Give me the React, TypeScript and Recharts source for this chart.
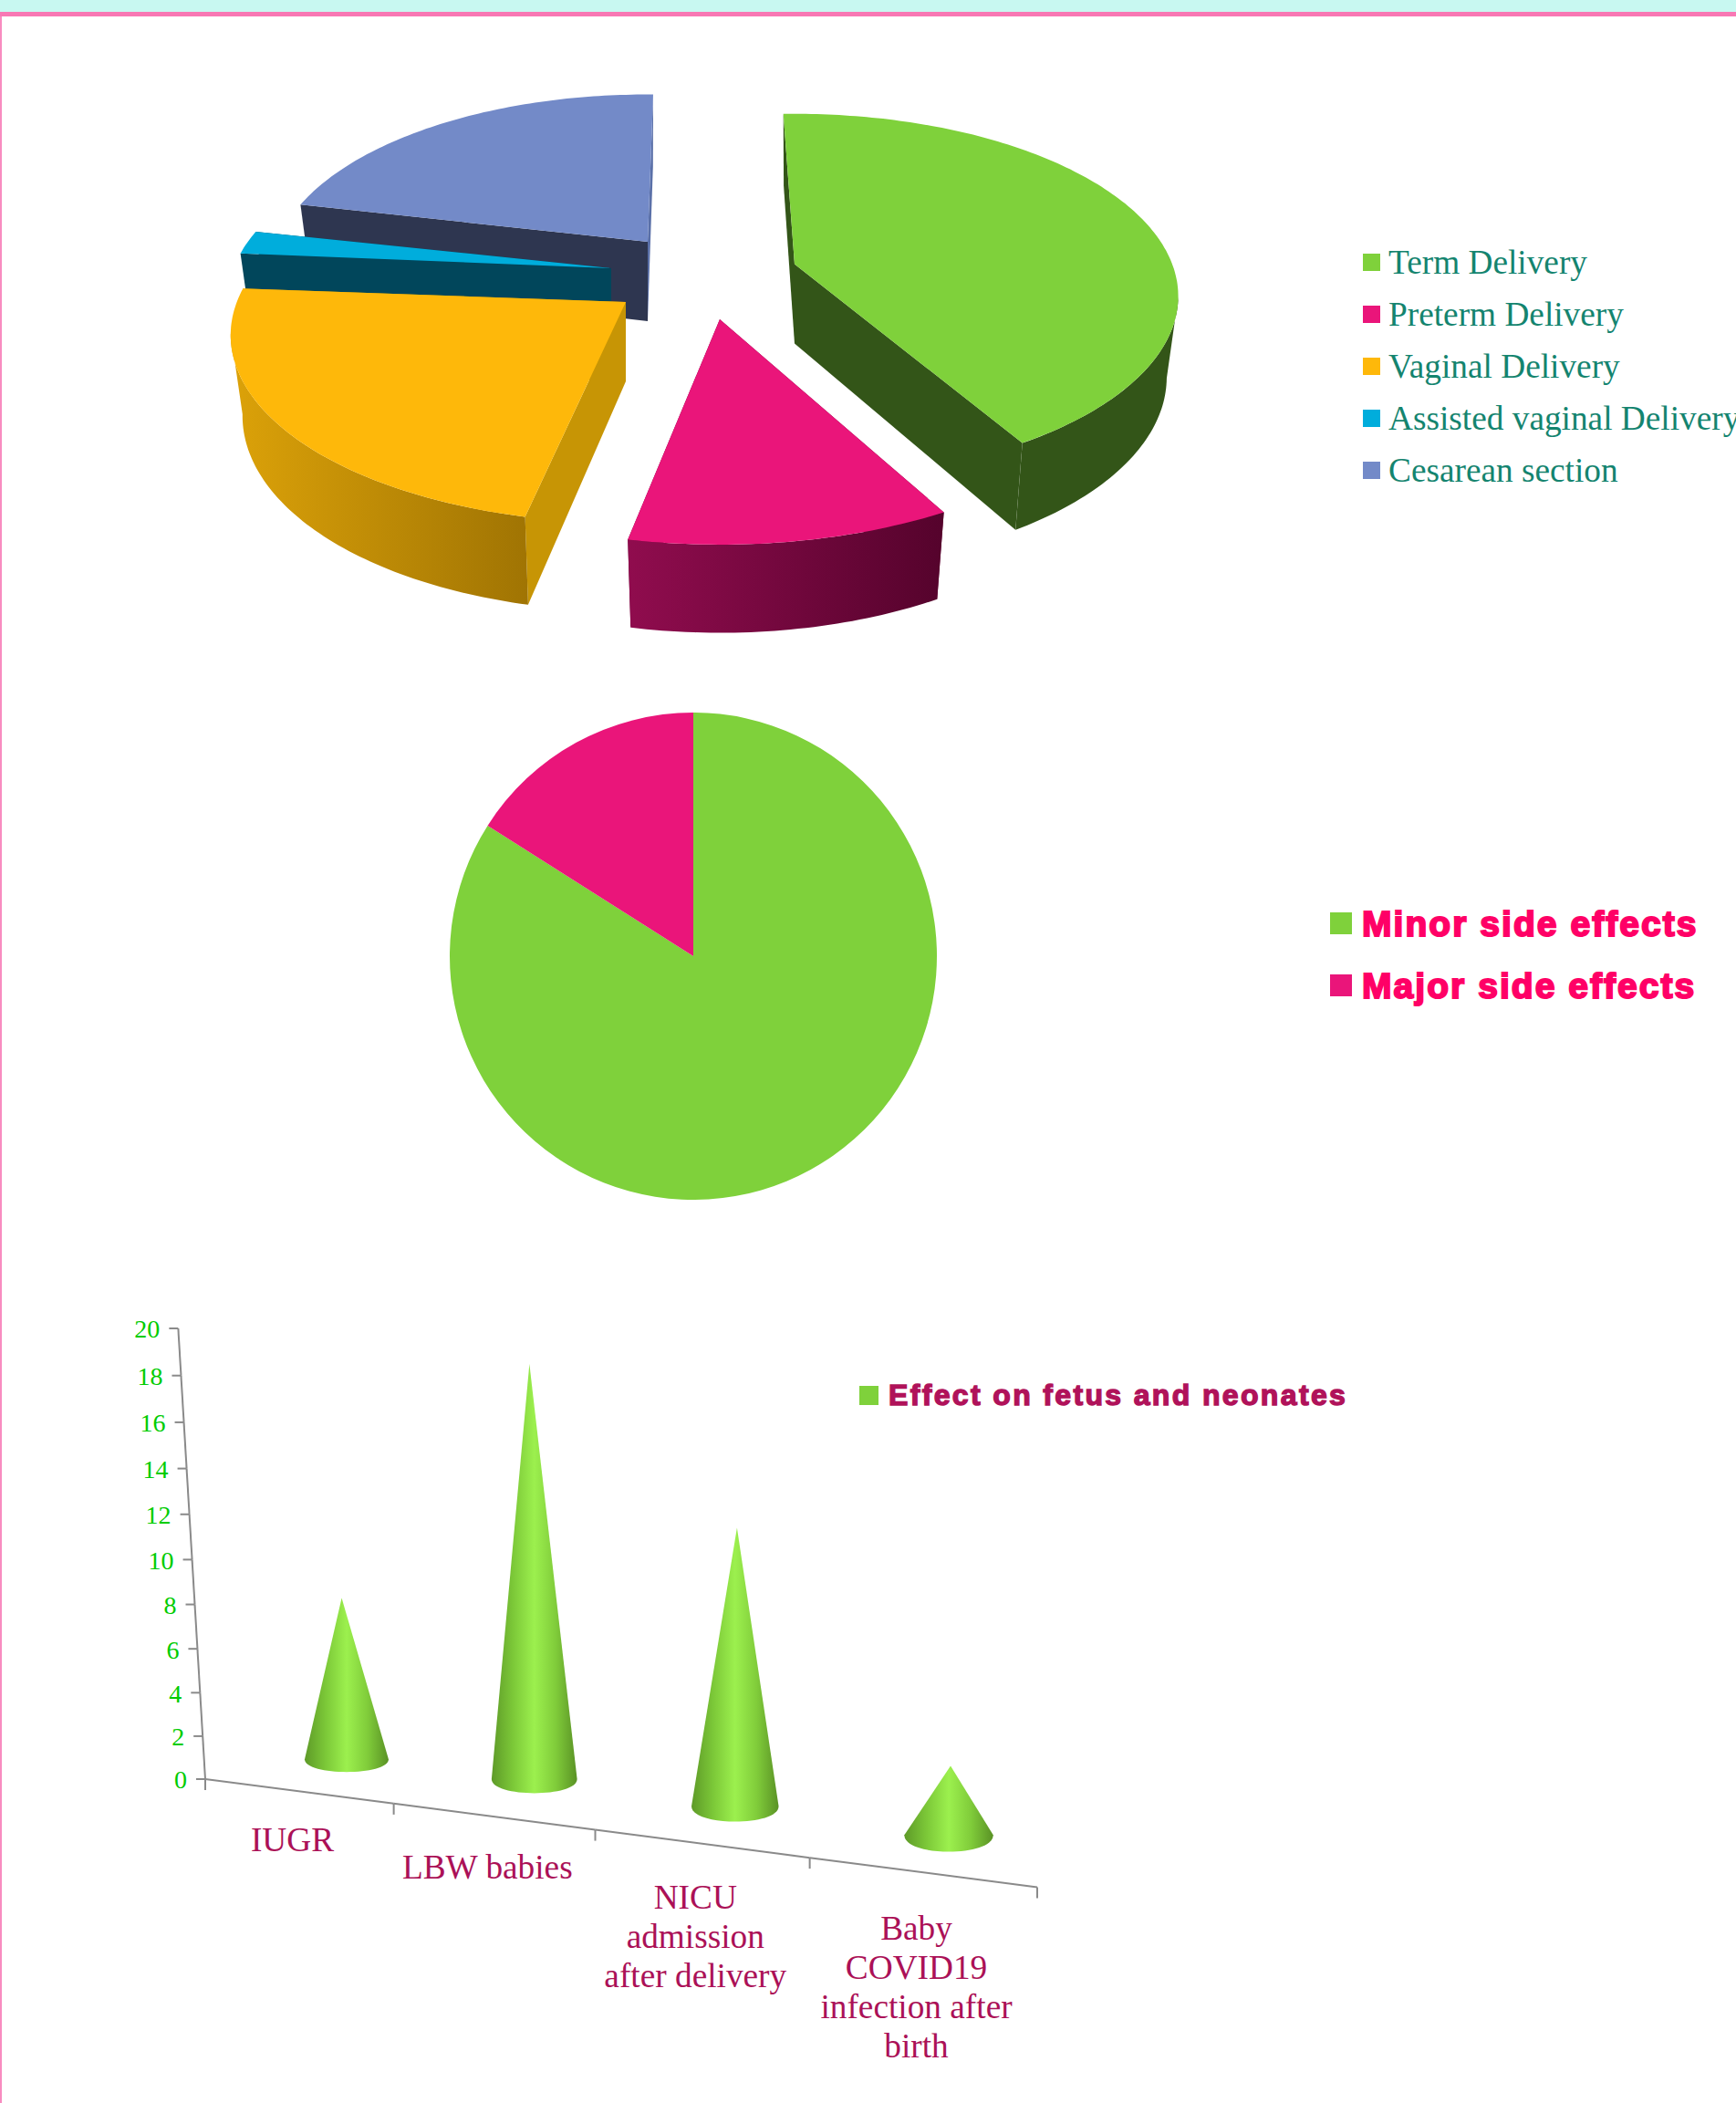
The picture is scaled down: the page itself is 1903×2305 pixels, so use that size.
import React from 'react';
import { PieChart, Pie, Cell, BarChart, Bar, XAxis, YAxis, Legend } from 'recharts';

// ---------- data ----------
const deliveryNames = ['Term Delivery', 'Preterm Delivery', 'Vaginal Delivery', 'Assisted vaginal Delivery', 'Cesarean section'];
const deliveryValues = [42, 11.7, 22.1, 2.5, 21.7];
const deliveryColors = ['#7FD13B', '#EA157A', '#FEB80A', '#00ADDC', '#738AC8'];

const effectNames = ['Minor side effects', 'Major side effects'];
const effectValues = [84, 16];
const effectColors = ['#7FD13B', '#EA157A'];

const fetusCategories = ['IUGR', 'LBW babies', 'NICU admission after delivery', 'Baby COVID19 infection after birth'];
const fetusTickLines = [['IUGR'], ['LBW babies'], ['NICU', 'admission', 'after delivery'], ['Baby', 'COVID19', 'infection after', 'birth']];
const fetusValues = [7.4, 18.5, 12.6, 3.2];
const fetusSeriesName = 'Effect on fetus and neonates';
const fetusTicks = [0, 2, 4, 6, 8, 10, 12, 14, 16, 18, 20];

// ---------- derived tables ----------
// drawn back to front, so the slices go counter-clockwise starting with the last one
const deliveryTable = deliveryNames.map((name, i) => ({ name, value: deliveryValues[i] })).reverse();
const effectTable = effectNames.map((name, i) => ({ name, value: effectValues[i] }));
const fetusTable = fetusCategories.map((name, i) => ({ name, value: fetusValues[i] }));

// ---------- 3D pie presentation ----------
const SERIF = '"Liberation Serif", serif';
const SANS = '"Liberation Sans", sans-serif';
const SQUASH = 0.468;
const PERSP = 0.176;
const DEPTH = 87;
const NO_MARGIN = { top: 0, right: 0, bottom: 0, left: 0 };

const sliceLook: Record<string, any> = {
  'Term Delivery': { dx: 111, dy: -20.5, scale: 1, turn: 1, spread: 1, wall: ['#335518', '#335518'], side: '#335518', sideEnd: '#335518' },
  'Preterm Delivery': { dx: 29, dy: 40, scale: 1.05, turn: 0, spread: 0.94, wall: ['#900C4E', '#55032C'], side: '#6a0636', sideEnd: '#6a0636' },
  'Vaginal Delivery': { dx: -74, dy: 21, scale: 1.03, turn: -1.25, spread: 1.03, wall: ['#DCA209', '#A07403'], side: '#C79505', sideEnd: '#C79505' },
  'Assisted vaginal Delivery': { dx: -90, dy: -16, scale: 1, turn: -2.25, spread: 0.83, wall: ['#01465B', '#01465B'], side: '#01465B', sideEnd: '#01465B' },
  'Cesarean section': { dx: -50, dy: -45, scale: 0.98, turn: -2, spread: 1, wall: ['#2E3650', '#2E3650'], side: '#2E3650', sideEnd: '#5A70A8' },
};

const PieSlice3D = (props: any) => {
  const { cx, cy, outerRadius, startAngle, endAngle, name, payload } = props;
  const key = name ?? payload?.name;
  const look = sliceLook[key];
  if (!look) return null;
  const apexX = cx + look.dx;
  const apexY = cy + look.dy;
  const top = (deg: number) => {
    const a = (deg * Math.PI) / 180;
    const u = Math.cos(a);
    const v = -Math.sin(a);
    const d = 1 - PERSP * v;
    return [apexX + (look.scale * outerRadius * u) / d, apexY + (look.scale * outerRadius * SQUASH * v) / d, v];
  };
  const bottom = (deg: number) => {
    const [x, y, v] = top(deg);
    return [apexX + (x - apexX) * 0.97, y + DEPTH / (1 - 0.1 * v), v];
  };
  const mid = (startAngle + endAngle) / 2;
  const half = (Math.abs(endAngle - startAngle) / 2) * look.spread;
  const a0 = mid - half + look.turn;
  const a1 = mid + half + look.turn;
  const steps = Math.max(2, Math.ceil(a1 - a0));
  const angles = Array.from({ length: steps + 1 }, (_, i) => a0 + ((a1 - a0) * i) / steps);
  const topArc = angles.map(top);
  const botArc = angles.map(bottom);
  const fmt = (pts: number[][]) => pts.map((p) => `${p[0].toFixed(1)},${p[1].toFixed(1)}`).join(' ');
  const apexBottom = [apexX, apexY + DEPTH];
  const wallAt = (deg: number) => fmt([[apexX, apexY], top(deg), bottom(deg), apexBottom]);
  // a0 is the clockwise end of the slice, a1 its clockwise start
  const faces = [
    { v: top(a0)[2], pts: wallAt(a0), fill: look.sideEnd },
    { v: top(a1)[2], pts: wallAt(a1), fill: look.side },
  ].sort((p, q) => p.v - q.v);
  // only the strips of the rim that face the viewer, all wound the same way
  const strips: string[] = [];
  for (let i = 0; i < steps; i++) {
    if (topArc[i][0] >= topArc[i + 1][0]) continue;
    const q = [topArc[i], topArc[i + 1], botArc[i + 1], botArc[i]];
    strips.push('M' + q.map((p) => `${p[0].toFixed(2)},${p[1].toFixed(2)}`).join('L') + 'Z');
  }
  const gid = 'wall' + deliveryNames.indexOf(key);
  const fill = deliveryColors[deliveryNames.indexOf(key)];
  return (
    <g>
      <defs>
        <linearGradient id={gid} x1="0" x2="1" y1="0" y2="0">
          <stop offset="0" stopColor={look.wall[0]} />
          <stop offset="1" stopColor={look.wall[1]} />
        </linearGradient>
      </defs>
      {faces.map((f, i) => (
        <polygon key={i} points={f.pts} fill={f.fill} />
      ))}
      {strips.length > 0 && <path d={strips.join('')} fill={`url(#${gid})`} />}
      <polygon points={fmt([[apexX, apexY], ...topArc])} fill={fill} />
    </g>
  );
};

// ---------- legends ----------
const makeLegend = (names: string[], colors: string[], o: any) => () => (
  <div style={{ position: 'relative', width: o.width, height: names.length * o.rowH, overflow: 'hidden' }}>
    {names.map((n, i) => (
      <div key={n} style={{ position: 'absolute', left: 0, top: i * o.rowH, height: o.rowH, display: 'flex', alignItems: 'center', whiteSpace: 'nowrap' }}>
        <span style={{ display: 'inline-block', width: o.box, height: o.box, background: colors[i], marginRight: o.gap, flex: 'none' }} />
        <span
          style={{
            fontFamily: o.font,
            fontSize: o.size,
            fontWeight: o.weight,
            color: o.color,
            letterSpacing: o.spacing,
            WebkitTextStroke: o.stroke,
            lineHeight: 1,
          }}
        >
          {n}
        </span>
      </div>
    ))}
  </div>
);

const Legend1 = makeLegend(deliveryNames, deliveryColors, {
  width: 409, rowH: 57, box: 19, gap: 9, font: SERIF, size: 37.3, weight: 400, color: '#14846F', spacing: 0, stroke: '0',
});
const Legend2 = makeLegend(effectNames, effectColors, {
  width: 445, rowH: 68, box: 24, gap: 11, font: SANS, size: 39, weight: 700, color: '#FF0066', spacing: 2.05, stroke: '2px #FF0066',
});
const Legend3 = makeLegend([fetusSeriesName], ['#7FD13B'], {
  width: 600, rowH: 50, box: 21, gap: 11, font: SANS, size: 32, weight: 700, color: '#B0125A', spacing: 2.35, stroke: '1.4px #B0125A',
});

// ---------- cone chart geometry ----------
const CH_W = 1903;
const CH_H = 905;
const X0 = 225;
const PW = 912;
const Y0 = 550;
const PH = 494;
const Y_WIDTH = 60;
const X_HEIGHT = 60;
const FLOOR_SLOPE = 0.13;
const WALL_TILT = 0.06;

const bendX = (t: number) => t - 0.125 * t * (1 - t);
const floorAt = (t: number) => [X0 + PW * bendX(t), Y0 + FLOOR_SLOPE * PW * bendX(t)];
const bendY = (s: number) => s - 0.052 * s * (1 - s);
const wallAt = (y: number) => {
  const s = bendY((Y0 - y) / PH);
  return [X0 - WALL_TILT * PH * s, Y0 - PH * s];
};

const AXIS_GREY = '#8a8a8a';

const YTick = (props: any) => {
  const { y, payload } = props;
  const [wx, wy] = wallAt(y);
  const step = PH / (fetusTicks.length - 1);
  const [nx, ny] = wallAt(y + step);
  return (
    <g>
      {payload.value > 0 && <line x1={wx} y1={wy} x2={nx} y2={ny} stroke={AXIS_GREY} strokeWidth={2} />}
      <line x1={wx - 10} y1={wy} x2={wx} y2={wy} stroke={AXIS_GREY} strokeWidth={2} />
      <text x={wx - 20} y={wy} dy="0.37em" textAnchor="end" fontFamily={SERIF} fontSize={28} fill="#00CC00">
        {payload.value}
      </text>
    </g>
  );
};

const XTick = (props: any) => {
  const { x, index } = props;
  const n = fetusCategories.length;
  const i = index ?? Math.round(((x - X0) / PW) * n - 0.5);
  const [ax, ay] = floorAt(i / n);
  const [bx, by] = floorAt((i + 1) / n);
  const [mx, my] = floorAt((i + 0.5) / n);
  const lines = fetusTickLines[i] ?? [];
  const drop = 52 + (11 * (i + 0.5)) / n;
  return (
    <g>
      <line x1={ax} y1={ay} x2={bx} y2={by} stroke={AXIS_GREY} strokeWidth={2} />
      <line x1={bx} y1={by} x2={bx} y2={by + 12} stroke={AXIS_GREY} strokeWidth={2} />
      {i === 0 && <line x1={ax} y1={ay} x2={ax} y2={ay + 12} stroke={AXIS_GREY} strokeWidth={2} />}
      {lines.map((l, k) => (
        <text key={k} x={mx - 6} y={my + drop + k * 43} dy="0.33em" textAnchor="middle" fontFamily={SERIF} fontSize={37.3} fill="#AB1157">
          {l}
        </text>
      ))}
    </g>
  );
};

const Cone = (props: any) => {
  const { x, width, height } = props;
  const t = (x + width / 2 - X0) / PW;
  const [fx, fy] = floorAt(t);
  const cx = fx + 57 - 32 * t;
  const by = fy - Math.min(41, 30 + 40 * t);
  const hw = (width / 2) * (1 + 0.08 * t);
  const ry = hw * (0.29 + 0.1 * t);
  const h = PH * bendY(height / PH);
  const tipX = cx + h * (-0.04 + 0.075 * t);
  const tipY = by - h;
  const bulge = ry * 1.333;
  const d = `M${cx - hw},${by} L${tipX},${tipY} L${cx + hw},${by} C${cx + hw},${by + bulge} ${cx - hw},${by + bulge} ${cx - hw},${by} Z`;
  return <path d={d} fill="url(#coneFill)" />;
};

export default function App() {
  return (
    <div style={{ position: 'absolute', left: 0, top: 0, width: 1903, height: 2305, overflow: 'hidden', background: '#fff' }}>
      <div style={{ position: 'absolute', left: 0, top: 0, width: 1903, height: 13, background: '#C8F8F1' }} />
      <div style={{ position: 'absolute', left: 0, top: 13, width: 1903, height: 5, background: '#F878B4' }} />
      <div style={{ position: 'absolute', left: 0, top: 18, width: 2, height: 2287, background: '#F88CC0' }} />

      <div style={{ position: 'absolute', left: 0, top: 0 }}>
        <PieChart width={1903} height={740} margin={NO_MARGIN}>
          <Pie
            data={deliveryTable}
            dataKey="value"
            nameKey="name"
            cx={760}
            cy={310}
            outerRadius={414}
            startAngle={91 - 360}
            endAngle={91}
            isAnimationActive={false}
            stroke="none"
            legendType="none"
            shape={PieSlice3D}
            inactiveShape={PieSlice3D}
          />
          <Legend layout="vertical" align="center" verticalAlign="middle" content={Legend1} wrapperStyle={{ left: 1494, top: 259, width: 409 }} />
        </PieChart>
      </div>

      <div style={{ position: 'absolute', left: 0, top: 700 }}>
        <PieChart width={1903} height={700} margin={NO_MARGIN}>
          <Pie
            data={effectTable}
            dataKey="value"
            nameKey="name"
            cx={760}
            cy={348}
            outerRadius={267}
            startAngle={90}
            endAngle={-270}
            isAnimationActive={false}
            stroke="none"
          >
            {effectTable.map((e, i) => (
              <Cell key={e.name} fill={effectColors[i]} />
            ))}
          </Pie>
          <Legend layout="vertical" align="center" verticalAlign="middle" content={Legend2} wrapperStyle={{ left: 1458, top: 278, width: 445 }} />
        </PieChart>
      </div>

      <div style={{ position: 'absolute', left: 0, top: 1400 }}>
        <BarChart
          width={CH_W}
          height={CH_H}
          data={fetusTable}
          barSize={91}
          margin={{ left: X0 - Y_WIDTH, right: CH_W - X0 - PW, top: Y0 - PH, bottom: CH_H - Y0 - X_HEIGHT }}
        >
          <defs>
            <linearGradient id="coneFill" x1="0" x2="1" y1="0" y2="0">
              <stop offset="0" stopColor="#5E9A28" />
              <stop offset="0.25" stopColor="#7CC838" />
              <stop offset="0.5" stopColor="#9CF04E" />
              <stop offset="0.75" stopColor="#80CC3A" />
              <stop offset="1" stopColor="#5A9225" />
            </linearGradient>
          </defs>
          <XAxis dataKey="name" height={X_HEIGHT} axisLine={false} tickLine={false} interval={0} tick={XTick} />
          <YAxis width={Y_WIDTH} domain={[0, 20]} ticks={fetusTicks} axisLine={false} tickLine={false} interval={0} tick={YTick} />
          <Bar dataKey="value" name={fetusSeriesName} isAnimationActive={false} shape={Cone} />
          <Legend layout="vertical" align="center" verticalAlign="middle" content={Legend3} wrapperStyle={{ left: 942, top: 104, width: 600 }} />
        </BarChart>
      </div>
    </div>
  );
}
